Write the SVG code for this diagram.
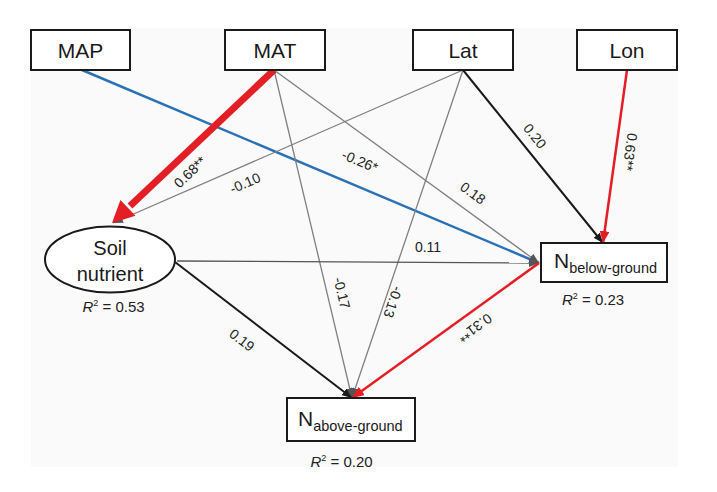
<svg xmlns="http://www.w3.org/2000/svg" width="717" height="492" viewBox="0 0 717 492">
<defs>
<style>
.box{fill:#fff;stroke:#1a1a1a;stroke-width:2}
.nt{font-family:"Liberation Sans",Arial,sans-serif;font-size:21px;fill:#1a1a1a;text-anchor:middle}
.sub{font-size:14.5px}
.lab{font-family:"Liberation Sans",Arial,sans-serif;font-size:14px;fill:#222;text-anchor:middle;dominant-baseline:central}
.r2{font-family:"Liberation Sans",Arial,sans-serif;font-size:15px;fill:#222;text-anchor:middle}
.gray{stroke:#808080;stroke-width:1.3;fill:none}
.black{stroke:#1a1a1a;stroke-width:2;fill:none}
.blue{stroke:#2a72b5;stroke-width:2.5;fill:none}
.red{stroke:#e31e24;stroke-width:2.5;fill:none}
</style>
<marker id="aGray" markerUnits="userSpaceOnUse" markerWidth="10" markerHeight="8" refX="10" refY="4" orient="auto" viewBox="0 0 10 8"><path d="M0,0 L10,4 L0,8 z" fill="#555"/></marker>
<marker id="aBlack" markerUnits="userSpaceOnUse" markerWidth="10" markerHeight="8" refX="10" refY="4" orient="auto" viewBox="0 0 10 8"><path d="M0,0 L10,4 L0,8 z" fill="#1a1a1a"/></marker>
<marker id="aBlue" markerUnits="userSpaceOnUse" markerWidth="10" markerHeight="8" refX="10" refY="4" orient="auto" viewBox="0 0 10 8"><path d="M0,0 L10,4 L0,8 z" fill="#2a72b5"/></marker>
<marker id="aRed" markerUnits="userSpaceOnUse" markerWidth="12" markerHeight="10" refX="12" refY="5" orient="auto" viewBox="0 0 12 10"><path d="M0,0 L12,5 L0,10 z" fill="#e31e24"/></marker>
</defs>
<rect x="31" y="28" width="647" height="439" fill="#fafafa"/>
<g id="connectors">
<line class="blue" x1="82" y1="70" x2="539" y2="263" marker-end="url(#aBlue)"/>
<line class="gray" x1="274" y1="70" x2="539" y2="263" marker-end="url(#aGray)"/>
<line class="gray" x1="274" y1="70" x2="352" y2="398" marker-end="url(#aGray)"/>
<line class="gray" x1="463" y1="70" x2="113" y2="223" marker-end="url(#aGray)"/>
<line class="gray" x1="463" y1="70" x2="352" y2="398" marker-end="url(#aGray)"/>
<line class="black" x1="463" y1="70" x2="603" y2="243" marker-end="url(#aBlack)"/>
<line class="red" x1="627" y1="70" x2="603" y2="243" marker-end="url(#aRed)"/>
<line class="gray" x1="177" y1="261" x2="539" y2="263" marker-end="url(#aGray)" style="stroke:#555"/>
<line class="black" x1="175" y1="262" x2="352" y2="398" marker-end="url(#aBlack)"/>
<line class="red" x1="539" y1="263" x2="352" y2="398" marker-end="url(#aRed)"/>
<line x1="274" y1="70" x2="130" y2="206" stroke="#e31e24" stroke-width="7"/>
<polygon points="112,223 135.5,215.8 120.4,199.9" fill="#e31e24"/>
<text class="lab" transform="translate(190,172) rotate(-43.5)">0.68**</text>
<text class="lab" transform="translate(245,183) rotate(-23.6)">-0.10</text>
<text class="lab" transform="translate(360,161) rotate(22.9)">-0.26*</text>
<text class="lab" transform="translate(473,193) rotate(36)">0.18</text>
<text class="lab" transform="translate(535,136) rotate(51)">0.20</text>
<text class="lab" transform="translate(630,152) rotate(97.9)">0.63**</text>
<text class="lab" transform="translate(428,247)">0.11</text>
<text class="lab" transform="translate(342,293) rotate(76.6)">-0.17</text>
<text class="lab" transform="translate(393,302) rotate(108.7)">-0.13</text>
<text class="lab" transform="translate(242,340) rotate(37.5)">0.19</text>
<text class="lab" transform="translate(475,328) rotate(144.2)">0.31**</text>
</g>
<g id="MAP"><rect class="box" x="31" y="30" width="99" height="40"/><text class="nt" x="80.5" y="58">MAP</text></g>
<g id="MAT"><rect class="box" x="225" y="30" width="100" height="40"/><text class="nt" x="275" y="58">MAT</text></g>
<g id="Lat"><rect class="box" x="413" y="30" width="100" height="40"/><text class="nt" x="463" y="58">Lat</text></g>
<g id="Lon"><rect class="box" x="577" y="30" width="100" height="40"/><text class="nt" x="627" y="58">Lon</text></g>
<g id="SoilNutrient"><ellipse cx="110" cy="259.5" rx="65" ry="33" fill="#fff" stroke="#1a1a1a" stroke-width="2"/><text class="nt" x="110" y="255" style="font-size:20px">Soil</text><text class="nt" x="110" y="281" style="font-size:20px">nutrient</text><text class="r2" x="113.5" y="312"><tspan font-style="italic">R</tspan><tspan font-size="9" dy="-6">2</tspan><tspan dy="6"> = 0.53</tspan></text></g>
<g id="Nbelow"><rect class="box" x="541" y="243" width="126" height="39"/><text class="nt" x="554" y="268" style="text-anchor:start">N<tspan class="sub" dy="5">below-ground</tspan></text><text class="r2" x="593" y="305"><tspan font-style="italic">R</tspan><tspan font-size="9" dy="-6">2</tspan><tspan dy="6"> = 0.23</tspan></text></g>
<g id="Nabove"><rect class="box" x="287" y="398" width="128" height="43"/><text class="nt" x="298" y="426" style="text-anchor:start">N<tspan class="sub" dy="5">above-ground</tspan></text><text class="r2" x="341.5" y="467"><tspan font-style="italic">R</tspan><tspan font-size="9" dy="-6">2</tspan><tspan dy="6"> = 0.20</tspan></text></g>
</svg>
